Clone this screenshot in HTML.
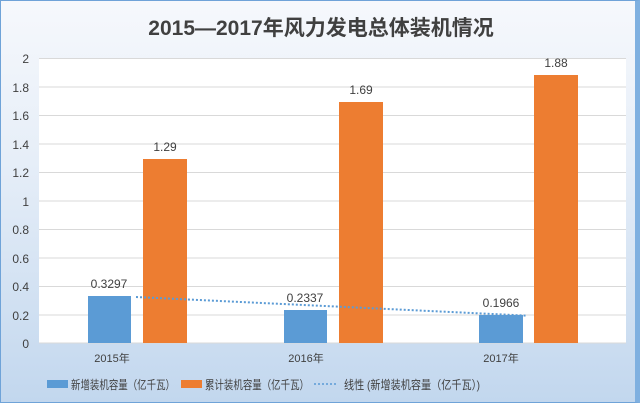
<!DOCTYPE html>
<html><head><meta charset="utf-8"><style>
body{margin:0;}
#c{position:relative;width:640px;height:403px;overflow:hidden;background:linear-gradient(#f6f8fc 0%,#e6eef8 40%,#c2d7ee 100%);box-sizing:border-box;border:1px solid #6fa3d8;border-right:5px solid #7fb0e0;font-family:"Liberation Sans","Noto Sans CJK SC",sans-serif;}
</style></head><body><div id="c">
<svg width="640" height="403" style="position:absolute;left:0;top:0" font-family="Liberation Sans, Noto Sans CJK SC, sans-serif">
<text x="320" y="34" text-anchor="middle" font-size="21" font-weight="bold" fill="#404040">2015—2017年风力发电总体装机情况</text>
<rect x="38" y="57" width="587" height="285" fill="#fff"/>
<g stroke="#d9d9d9" stroke-width="1">
<line x1="38" x2="625" y1="57.5" y2="57.5"/><line x1="38" x2="625" y1="86" y2="86"/><line x1="38" x2="625" y1="114.5" y2="114.5"/><line x1="38" x2="625" y1="143" y2="143"/><line x1="38" x2="625" y1="171.5" y2="171.5"/><line x1="38" x2="625" y1="200" y2="200"/><line x1="38" x2="625" y1="228.5" y2="228.5"/><line x1="38" x2="625" y1="257" y2="257"/><line x1="38" x2="625" y1="285.5" y2="285.5"/><line x1="38" x2="625" y1="314" y2="314"/><line x1="38" x2="625" y1="342" y2="342"/>
</g>
<g font-size="12" fill="#404040" text-anchor="end">
<text x="28" y="62">2</text><text x="28" y="91">1.8</text><text x="28" y="119">1.6</text><text x="28" y="148">1.4</text><text x="28" y="176">1.2</text><text x="28" y="205">1</text><text x="28" y="233">0.8</text><text x="28" y="262">0.6</text><text x="28" y="290">0.4</text><text x="28" y="319">0.2</text><text x="28" y="347">0</text>
</g>
<g fill="#5b9bd5"><rect x="87" y="295" width="43" height="47"/><rect x="283" y="309" width="43" height="33"/><rect x="478" y="314" width="44" height="28"/></g>
<g fill="#ed7d31"><rect x="142" y="158" width="44" height="184"/><rect x="338" y="101" width="44" height="241"/><rect x="533" y="74" width="44" height="268"/></g>
<line x1="135" y1="296" x2="525" y2="314.6" stroke="#5b9bd5" stroke-width="2" stroke-dasharray="2,2"/>
<g font-size="12" fill="#404040" text-anchor="middle">
<text x="108" y="287">0.3297</text><text x="304" y="301">0.2337</text><text x="500" y="306">0.1966</text>
<text x="164" y="150">1.29</text><text x="360" y="93">1.69</text><text x="555" y="66">1.88</text>
</g>
<g font-size="11" fill="#404040" text-anchor="middle">
<text x="111" y="361">2015年</text><text x="305" y="361">2016年</text><text x="500" y="361">2017年</text>
</g>
<g font-size="12" fill="#404040">
<rect x="46" y="379" width="21" height="8" fill="#5b9bd5"/><text x="70" y="388" textLength="104" lengthAdjust="spacingAndGlyphs">新增装机容量（亿千瓦）</text>
<rect x="180" y="379" width="21" height="8" fill="#ed7d31"/><text x="204" y="388" textLength="104" lengthAdjust="spacingAndGlyphs">累计装机容量（亿千瓦）</text>
<line x1="313" y1="383" x2="336" y2="383" stroke="#5b9bd5" stroke-width="1.5" stroke-dasharray="2,2"/><text x="343" y="388" textLength="136" lengthAdjust="spacingAndGlyphs">线性 (新增装机容量（亿千瓦）)</text>
</g>
</svg>
</div></body></html>
